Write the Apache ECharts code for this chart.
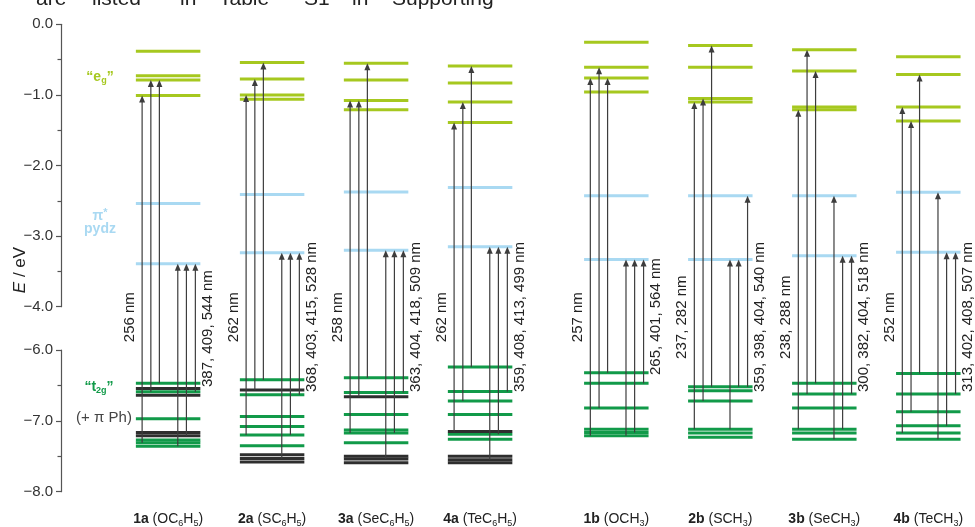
<!DOCTYPE html>
<html>
<head>
<meta charset="utf-8">
<script src="https://cdn.jsdelivr.net/npm/echarts@6/dist/echarts.min.js"></script>
<style>
  html, body { margin: 0; padding: 0; background: #ffffff; }
  #chart { width: 975px; height: 527px; }
</style>
</head>
<body>
<div id="chart"></div>
<script>
// ---- data -------------------------------------------------------------
const compounds = ['1a', '2a', '3a', '4a', '1b', '2b', '3b', '4b'];
const substituents = ['OC6H5', 'SC6H5', 'SeC6H5', 'TeC6H5', 'OCH3', 'SCH3', 'SeCH3', 'TeCH3'];

// "e_g" levels (eV)
const egLevels = [
  [-0.38, -0.73, -0.79, -1.01],
  [-0.54, -0.775, -1.00, -1.06],
  [-0.55, -0.79, -1.08, -1.21],
  [-0.59, -0.83, -1.10, -1.39],
  [-0.255, -0.61, -0.76, -0.96],
  [-0.30, -0.61, -1.05, -1.10],
  [-0.36, -0.66, -1.17, -1.21],
  [-0.46, -0.71, -1.17, -1.37]
];
// pi* (pydz) levels (eV)
const pydzLevels = [
  [-2.54, -3.39],
  [-2.41, -3.235],
  [-2.375, -3.20],
  [-2.31, -3.15],
  [-2.43, -3.33],
  [-2.43, -3.33],
  [-2.43, -3.28],
  [-2.38, -3.23]
];
// "t2g" levels (eV)
const t2gLevels = [
  [-6.47, -6.59, -6.97, -7.27, -7.31, -7.36],
  [-6.42, -6.63, -6.94, -7.08, -7.20, -7.35],
  [-6.39, -6.60, -6.91, -7.13, -7.17, -7.31],
  [-6.24, -6.585, -6.72, -6.91, -7.19, -7.26],
  [-6.32, -6.47, -6.82, -7.12, -7.165, -7.21],
  [-6.52, -6.575, -6.72, -7.12, -7.17, -7.23],
  [-6.47, -6.62, -6.82, -7.12, -7.17, -7.26],
  [-6.33, -6.62, -6.87, -7.07, -7.17, -7.26]
];
// phenyl pi levels (eV)
const phLevels = [
  [-6.545, -6.64, -7.165, -7.21],
  [-6.565, -7.48, -7.53, -7.58],
  [-6.66, -7.50, -7.54, -7.59],
  [-7.15, -7.50, -7.55, -7.59],
  [], [], [], []
];
// excitations per compound: [from, to] in eV, one per arrow slot
const transitions = [
  [[-7.31, -1.01], [-6.59, -0.79], [-6.47, -0.79], [-7.36, -3.39], [-7.21, -3.39], [-6.59, -3.39]],
  [[-7.20, -1.00], [-6.565, -0.775], [-6.42, -0.54], [-7.53, -3.235], [-7.20, -3.235], [-6.63, -3.235]],
  [[-7.17, -1.08], [-6.66, -1.08], [-6.39, -0.55], [-7.54, -3.20], [-7.17, -3.20], [-6.60, -3.20]],
  [[-7.15, -1.39], [-6.72, -1.10], [-6.24, -0.59], [-7.55, -3.15], [-7.19, -3.15], [-6.585, -3.15]],
  [[-7.21, -0.76], [-6.82, -0.61], [-6.32, -0.76], [-7.21, -3.33], [-7.165, -3.33], [-6.47, -3.33]],
  [[-7.12, -1.10], [-6.72, -1.05], [-6.52, -0.30], [-7.12, -3.33], [-6.52, -3.33], [-6.52, -2.43]],
  [[-7.12, -1.21], [-6.62, -0.36], [-6.47, -0.66], [-7.26, -2.43], [-7.12, -3.28], [-6.62, -3.28]],
  [[-7.17, -1.17], [-6.87, -1.37], [-6.33, -0.71], [-7.26, -2.38], [-7.07, -3.23], [-6.62, -3.23]]
];
const longLabels = ['256 nm', '262 nm', '258 nm', '262 nm', '257 nm', '237, 282 nm', '238, 288 nm', '252 nm'];
const shortLabels = [
  '387, 409, 544 nm', '368, 403, 415, 528 nm', '363, 404, 418, 509 nm', '359, 408, 413, 499 nm',
  '265, 401, 564 nm', '359, 398, 404, 540 nm', '300, 382, 404, 518 nm', '313, 402, 408, 507 nm'
];
const headerWords = ['are', 'listed', 'in', 'Table', 'S1', 'in', 'Supporting'];

// ---- layout & style ----------------------------------------------------
const FONT = '"Liberation Sans", Arial, sans-serif';
const GROUP_GAP = 0.31;           // extra space between the a- and b-series
const HALF = 0.31;                // half width of a level line (x units)
const SLOTS = [-0.25, -0.166, -0.084, 0.093, 0.176, 0.262];
const LONG_DX = -38, SHORT_DX = 40;             // label offsets, px
const SHORT_BASE = [37, 42, 42, 42, 25, 42, 42, 42]; // bottom of short label below break, px
const HEADER_X = [36, 92, 180, 219, 304, 352, 392];
const KINDS = ['eg', 'py', 't2g', 'ph'];
const COLORS = { eg: '#a6c81f', py: '#a9d9f2', t2g: '#119a49', ph: '#2e2e2e' };
const ARROW = '#3d3d3d';

const xPos = i => i + (i >= 4 ? GROUP_GAP : 0);

const upperData = [];
const lowerData = [];
compounds.forEach((c, i) => {
  egLevels[i].forEach(e => upperData.push([xPos(i), e, 0]));
  pydzLevels[i].forEach(e => upperData.push([xPos(i), e, 1]));
  t2gLevels[i].forEach(e => lowerData.push([xPos(i), e, 2]));
  phLevels[i].forEach(e => lowerData.push([xPos(i), e, 3]));
});
const arrowData = [];
transitions.forEach((list, i) => {
  list.forEach((t, s) => arrowData.push([xPos(i) + SLOTS[s], t[0], t[1]]));
});
const labelData = compounds.map((c, i) => [xPos(i), -6, i]);

// "OC6H5" -> flat rich-text tokens with subscripted digits
const formulaRich = s => s.split(/(\d+)/).filter(p => p.length)
  .map(p => (/^\d+$/.test(p) ? '{s|' + p + '}' : '{n|' + p + '}')).join('');

const chart = echarts.init(document.getElementById('chart'));

const levelRender = (params, api) => {
  const x = api.value(0), e = api.value(1);
  const kind = KINDS[api.value(2)];
  const a = api.coord([x - HALF, e]);
  const b = api.coord([x + HALF, e]);
  return {
    type: 'line',
    shape: { x1: a[0], y1: a[1], x2: b[0], y2: b[1] },
    style: { stroke: COLORS[kind], lineWidth: 3 }
  };
};

const valueAxisBase = {
  type: 'value',
  interval: 1,
  axisLine: { show: true, onZero: false, lineStyle: { color: '#555', width: 1.2 } },
  axisTick: { show: true, length: 5, lineStyle: { color: '#555', width: 1.2 } },
  minorTick: { show: true, splitNumber: 2, length: 3.5, lineStyle: { color: '#555', width: 1.2 } },
  splitLine: { show: false },
  axisLabel: {
    color: '#333', fontSize: 15, fontFamily: FONT, margin: 8,
    formatter: v => (v === 0 ? '0.0' : '\u2212' + Math.abs(v).toFixed(1))
  }
};

const option = {
  backgroundColor: '#ffffff',
  animation: false,
  grid: [
    { left: 61, width: 914, top: 24.3, height: 282.4 },
    { left: 61, width: 914, top: 350, height: 141.7 }
  ],
  xAxis: [
    { gridIndex: 0, type: 'value', min: -1.03, max: 7.759, show: false },
    { gridIndex: 1, type: 'value', min: -1.03, max: 7.759, show: false }
  ],
  yAxis: [
    Object.assign({}, valueAxisBase, { gridIndex: 0, min: -4, max: 0 }),
    Object.assign({}, valueAxisBase, { gridIndex: 1, min: -8, max: -6 })
  ],
  graphic: [
    {
      type: 'text', x: 20, y: 270, rotation: Math.PI / 2,
      style: {
        text: '{i|E}{n| / eV}', align: 'center', verticalAlign: 'middle', fill: '#222',
        rich: {
          i: { fontStyle: 'italic', fontSize: 17, fontFamily: FONT, fill: '#222' },
          n: { fontSize: 17, fontFamily: FONT, fill: '#222' }
        }
      }
    },
    {
      type: 'text', x: 100, y: 77,
      style: {
        text: '{n|\u201ce}{s|g}{n|\u201d}', align: 'center', verticalAlign: 'middle',
        rich: {
          n: { fontSize: 14, fontWeight: 'bold', fontFamily: FONT, fill: COLORS.eg },
          s: { fontSize: 9, fontWeight: 'bold', fontFamily: FONT, fill: COLORS.eg, padding: [7, 0, 0, 0] }
        }
      }
    },
    {
      type: 'text', x: 100, y: 216,
      style: {
        text: '{n|\u03c0}{s|*}', align: 'center', verticalAlign: 'middle',
        rich: {
          n: { fontSize: 14, fontWeight: 'bold', fontFamily: FONT, fill: COLORS.py },
          s: { fontSize: 11, fontWeight: 'bold', fontFamily: FONT, fill: COLORS.py, padding: [0, 0, 6, 0] }
        }
      }
    },
    {
      type: 'text', x: 100, y: 229,
      style: { text: 'pydz', align: 'center', verticalAlign: 'middle', fill: COLORS.py, font: 'bold 14px ' + FONT }
    },
    {
      type: 'text', x: 99, y: 387,
      style: {
        text: '{n|\u201ct}{s|2g}{n|\u201d}', align: 'center', verticalAlign: 'middle',
        rich: {
          n: { fontSize: 14, fontWeight: 'bold', fontFamily: FONT, fill: COLORS.t2g },
          s: { fontSize: 9, fontWeight: 'bold', fontFamily: FONT, fill: COLORS.t2g, padding: [7, 0, 0, 0] }
        }
      }
    },
    {
      type: 'text', x: 104, y: 418,
      style: { text: '(+ \u03c0 Ph)', align: 'center', verticalAlign: 'middle', fill: '#444', font: '15px ' + FONT }
    }
  ].concat(headerWords.map((w, k) => ({
    type: 'text', x: HEADER_X[k], y: 10,
    style: { text: w, align: 'left', verticalAlign: 'bottom', fill: '#222', font: '21px ' + FONT }
  }))),
  series: [
    {
      type: 'custom', xAxisIndex: 0, yAxisIndex: 0, z: 2,
      data: upperData,
      renderItem: levelRender
    },
    {
      type: 'custom', xAxisIndex: 1, yAxisIndex: 1, z: 2,
      data: lowerData,
      renderItem: levelRender
    },
    {
      // excitation arrows: start on the lower panel, end on the upper panel
      type: 'custom', xAxisIndex: 1, yAxisIndex: 1, z: 3, clip: false,
      data: arrowData,
      renderItem: (params, api) => {
        const x = api.value(0);
        const p0 = api.coord([x, api.value(1)]);
        const p1 = chart.convertToPixel({ xAxisIndex: 0, yAxisIndex: 0 }, [x, api.value(2)]);
        const hx = p0[0];
        return {
          type: 'group',
          children: [
            { type: 'line', shape: { x1: hx, y1: p0[1], x2: hx, y2: p1[1] + 5 },
              style: { stroke: ARROW, lineWidth: 1.2 } },
            { type: 'polygon', shape: { points: [[hx, p1[1]], [hx - 3, p1[1] + 7], [hx + 3, p1[1] + 7]] },
              style: { fill: ARROW } }
          ]
        };
      }
    },
    {
      // wavelength labels and compound names
      type: 'custom', xAxisIndex: 1, yAxisIndex: 1, z: 4, clip: false,
      data: labelData,
      renderItem: (params, api) => {
        const i = api.value(2);
        const top = api.coord([api.value(0), -6]);
        const bottom = api.coord([api.value(0), -8]);
        const upperEdge = chart.convertToPixel({ xAxisIndex: 0, yAxisIndex: 0 }, [api.value(0), -4]);
        const cx = top[0];
        return {
          type: 'group',
          children: [
            { type: 'text', x: cx + LONG_DX, y: upperEdge[1] + 10.5, rotation: Math.PI / 2,
              style: { text: longLabels[i], align: 'center', verticalAlign: 'middle', fill: '#222', font: '15px ' + FONT } },
            { type: 'text', x: cx + SHORT_DX, y: top[1] + SHORT_BASE[i], rotation: Math.PI / 2,
              style: { text: shortLabels[i], align: 'left', verticalAlign: 'middle', fill: '#222', font: '15px ' + FONT } },
            { type: 'text', x: cx, y: bottom[1] + 27.5,
              style: {
                text: '{b|' + compounds[i] + '}{n| (}' + formulaRich(substituents[i]) + '{n|)}',
                align: 'center', verticalAlign: 'middle',
                rich: {
                  b: { fontWeight: 'bold', fontSize: 14, fontFamily: FONT, fill: '#222' },
                  n: { fontSize: 14, fontFamily: FONT, fill: '#222' },
                  s: { fontSize: 9, fontFamily: FONT, fill: '#222', padding: [8, 0, 0, 0] }
                }
              } }
          ]
        };
      }
    }
  ]
};

chart.setOption(option);
</script>
</body>
</html>
